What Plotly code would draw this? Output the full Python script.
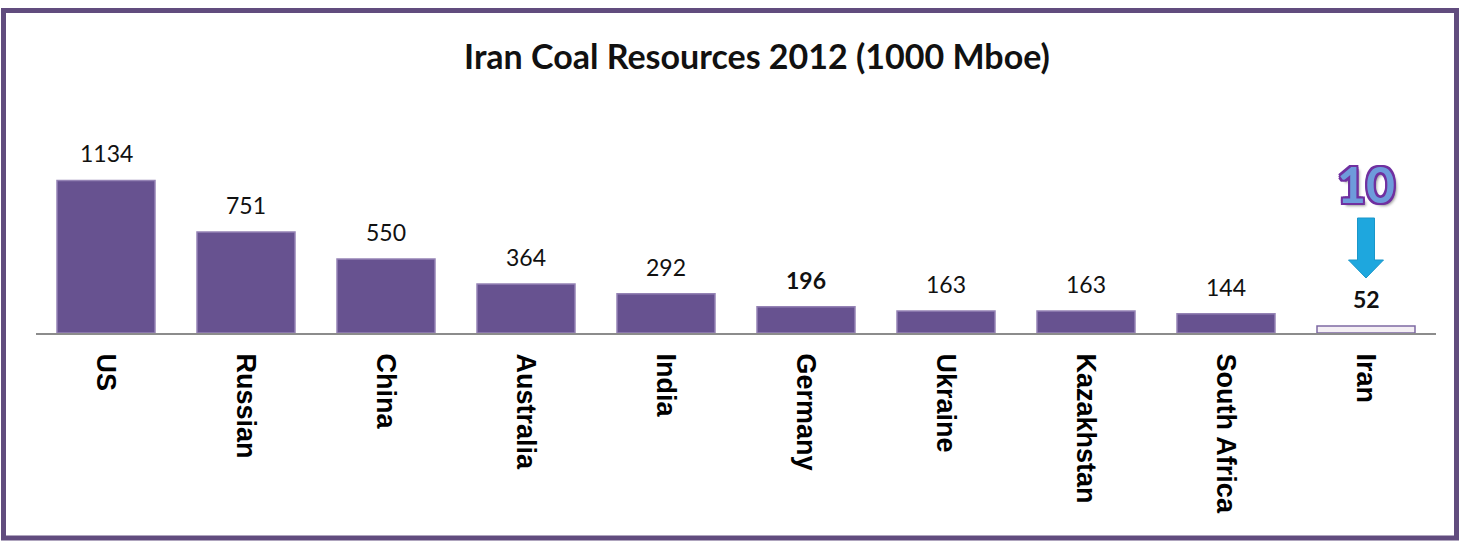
import plotly.graph_objects as go

countries = ["US", "Russian", "China", "Australia", "India", "Germany",
             "Ukraine", "Kazakhstan", "South Africa", "Iran"]
values = [1134, 751, 550, 364, 292, 196, 163, 163, 144, 52]
bold_labels = ["Germany", "Iran"]
iran_rank = "10"

W, H = 1460, 542
L, R, T, B = 36, 24, 100, 209
pw, ph = W - L - R, H - T - B

def px(x):
    return (x - L) / pw

def py(y):
    return (H - B - y) / ph

bar_colors = ["#F4EFF4" if c == "Iran" else "#675290" for c in countries]
line_colors = ["#7D69A3" if c == "Iran" else "#9583B5" for c in countries]

fig = go.Figure()
fig.add_trace(go.Bar(
    x=countries, y=values,
    marker=dict(color=bar_colors, line=dict(color=line_colors, width=1.5)),
    width=0.7, hoverinfo="x+y",
))

annotations = []
for c, v in zip(countries, values):
    txt = f"<b>{v}</b>" if c in bold_labels else str(v)
    annotations.append(dict(
        x=c, y=v, xref="x", yref="y", text=txt, showarrow=False,
        yanchor="bottom", yshift=11,
        font=dict(family="Lato", size=23, color="#111111"),
    ))

# "10" rank label above Iran
annotations.append(dict(
    x="Iran", y=py(184), xref="x", yref="paper", text=f"<b>{iran_rank}</b>",
    showarrow=False, yanchor="middle",
    font=dict(family="Lato", size=50, color="#6E9BDB",
              shadow="2px 0 0 #7030A0, -2px 0 0 #7030A0, 0 2px 0 #7030A0, 0 -2px 0 #7030A0, 2px 2px 0 #7030A0, -2px -2px 0 #7030A0, 2px -2px 0 #7030A0, -2px 2px 0 #7030A0, 3px 3px 3px #999999"),
))

shapes = []
# outer border
shapes.append(dict(type="rect", xref="paper", yref="paper",
                   x0=px(3.5), x1=px(1456.5), y0=py(538), y1=py(10.5),
                   line=dict(color="#614C7E", width=5), fillcolor="rgba(0,0,0,0)",
                   layer="below"))
# blue arrow
cx = 1366
ax_path = (f"M {px(cx-8.5)} {py(218)} L {px(cx+8.5)} {py(218)} L {px(cx+8.5)} {py(260)} "
           f"L {px(cx+17.5)} {py(260)} L {px(cx)} {py(278)} L {px(cx-17.5)} {py(260)} "
           f"L {px(cx-8.5)} {py(260)} Z")
shapes.append(dict(type="path", xref="paper", yref="paper", path=ax_path,
                   fillcolor="#1EA7DE", line=dict(color="#1A96C9", width=1)))

fig.update_layout(
    width=W, height=H,
    margin=dict(l=L, r=R, t=T, b=B),
    paper_bgcolor="white", plot_bgcolor="white",
    title=dict(text="<b>Iran Coal Resources 2012 (1000 Mboe)</b>",
               x=757 / W, xref="container", xanchor="center",
               y=1 - 57 / H, yref="container", yanchor="middle",
               font=dict(family="Lato", size=34, color="#111111")),
    showlegend=False,
    bargap=0.3,
    xaxis=dict(range=[-0.5, 9.5], showline=True, linecolor="#8C8C8C", linewidth=2,
               ticks="", tickangle=90, ticklabelstandoff=13,
               tickfont=dict(family="Liberation Sans", size=27, color="#000000", weight="bold"),
               showgrid=False, zeroline=False, fixedrange=True),
    yaxis=dict(range=[0, ph / 0.1345], visible=False, showgrid=False, zeroline=False),
    annotations=annotations,
    shapes=shapes,
)

fig.write_html("out.html",
               config={"displayModeBar": False},
               post_script="document.body.style.margin='0';document.body.style.overflow='hidden';")
